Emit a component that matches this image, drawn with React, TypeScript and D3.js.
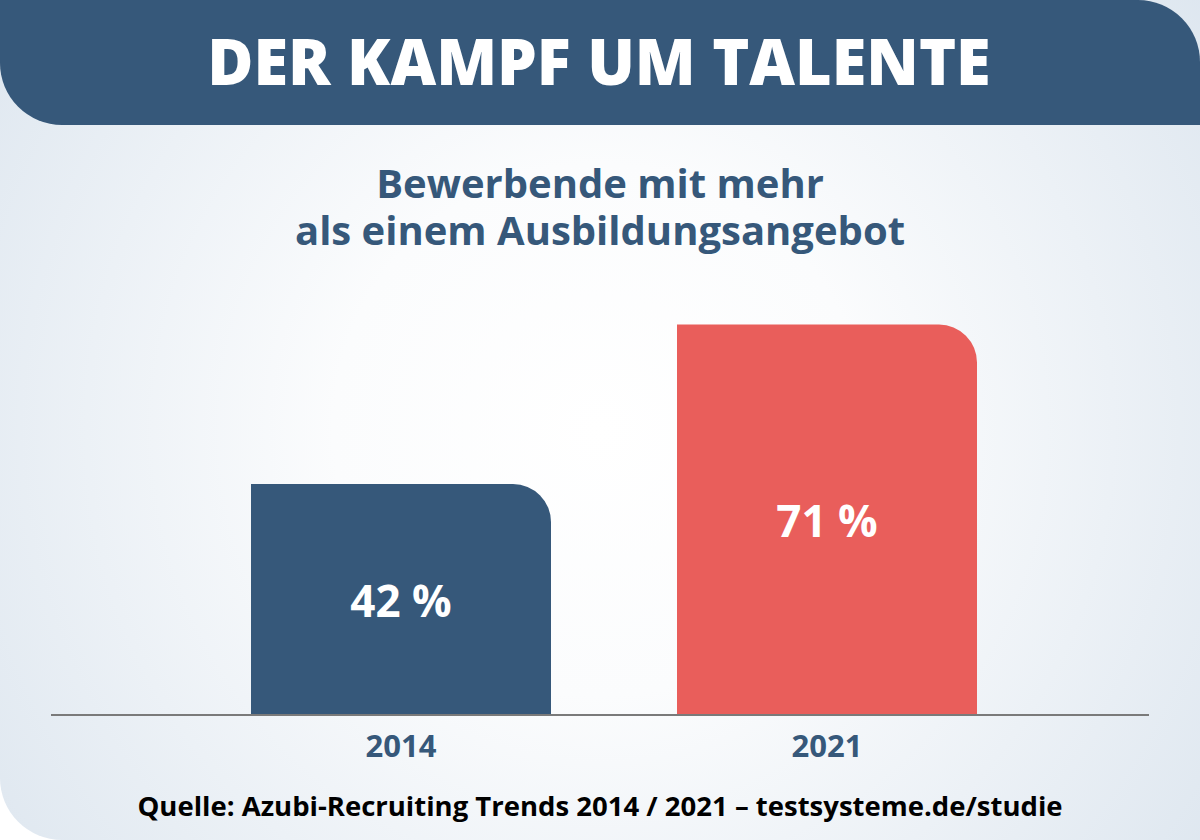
import React from "react";
import * as d3 from "d3";

const categories = ["2014", "2021"];
const values = [42, 71];
const valueLabels = ["42 %", "71 %"];
const barColors = ["#36587a", "#e95e5b"];
const title = "DER KAMPF UM TALENTE";
const subtitleLines = ["Bewerbende mit mehr", "als einem Ausbildungsangebot"];
const source = "Quelle: Azubi-Recruiting Trends 2014 / 2021 – testsysteme.de/studie";

const W = 1200;
const H = 840;

function barPath(x0: number, x1: number, yTop: number, yBot: number, r: number) {
  const p = d3.path();
  p.moveTo(x0, yBot);
  p.lineTo(x0, yTop);
  p.lineTo(x1 - r, yTop);
  p.arcTo(x1, yTop, x1, yTop + r, r);
  p.lineTo(x1, yBot);
  p.closePath();
  return p.toString();
}

export default function App() {
  const xb = d3.scaleBand<string>().domain(categories).range([38, 1190]).paddingInner(126 / 426).paddingOuter(0.5);
  const y = d3.scaleLinear().domain([0, 100]).range([715, 165]);
  const font = "'Open Sans', sans-serif";
  const blue = "#36587a";

  const card = d3.path();
  card.moveTo(0, 0);
  card.lineTo(W, 0);
  card.lineTo(W, H);
  card.lineTo(62, H);
  card.arcTo(0, H, 0, H - 62, 62);
  card.closePath();

  const banner = d3.path();
  banner.moveTo(0, 0);
  banner.lineTo(W - 62, 0);
  banner.arcTo(W, 0, W, 62, 62);
  banner.lineTo(W, 125);
  banner.lineTo(62, 125);
  banner.arcTo(0, 125, 0, 63, 62);
  banner.closePath();

  return (
    <svg width={W} height={H} style={{ position: "absolute", left: 0, top: 0 }}>
      <defs>
        <radialGradient id="bg" cx="600" cy="430" r="760" gradientUnits="userSpaceOnUse">
          <stop offset="0" stopColor="#ffffff" />
          <stop offset="0.35" stopColor="#fbfcfd" />
          <stop offset="1" stopColor="#dde6ef" />
        </radialGradient>
      </defs>
      <rect x={0} y={0} width={W} height={H} fill="#ffffff" />
      <path d={card.toString()} fill="url(#bg)" />
      <path d={banner.toString()} fill={blue} />
      <text x={599} y={85} textAnchor="middle" fill="#fff" fontFamily={font} fontWeight={800} fontSize={63}>
        {title}
      </text>
      <text textAnchor="middle" fill={blue} fontFamily={font} fontWeight={700} fontSize={40}>
        {subtitleLines.map((s, i) => (
          <tspan key={s} x={600} y={198 + i * 47}>
            {s}
          </tspan>
        ))}
      </text>
      {categories.map((c, i) => {
        const x0 = xb(c)!;
        const x1 = x0 + xb.bandwidth();
        const yt = y(values[i]);
        const yb = y(0);
        return (
          <g key={c}>
            <path d={barPath(x0, x1, yt, yb, 38)} fill={barColors[i]} />
            <text x={(x0 + x1) / 2} y={(yt + yb) / 2 + 17} textAnchor="middle" fill="#fff" fontFamily={font} fontWeight={700} fontSize={44}>
              {valueLabels[i]}
            </text>
            <text x={(x0 + x1) / 2} y={757} textAnchor="middle" fill={blue} fontFamily={font} fontWeight={700} fontSize={31}>
              {c}
            </text>
          </g>
        );
      })}
      <line x1={51} x2={1149} y1={715} y2={715} stroke="#7a7a7a" strokeWidth={2} />
      <text x={600} y={816} textAnchor="middle" fill="#000" fontFamily={font} fontWeight={700} fontSize={27.5}>
        {source}
      </text>
    </svg>
  );
}
